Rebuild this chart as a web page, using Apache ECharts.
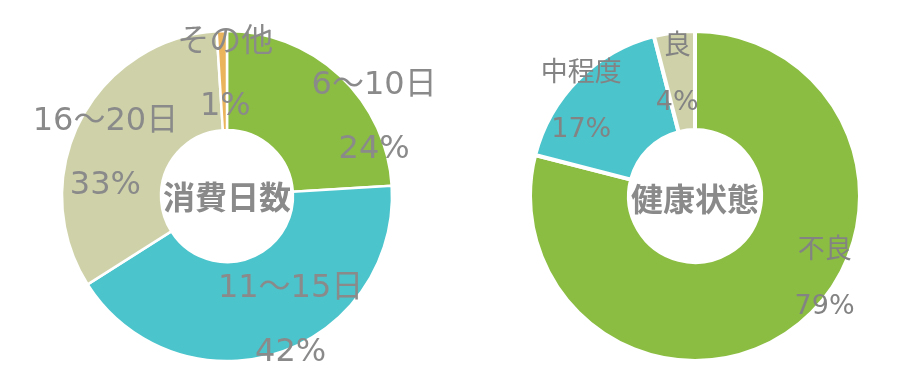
<!DOCTYPE html>
<html>
<head>
<meta charset="utf-8">
<script src="https://cdn.jsdelivr.net/npm/echarts@6/dist/echarts.min.js"></script>
<style>
html,body{margin:0;padding:0;background:#fff;}
#main{width:917px;height:386px;}
</style>
</head>
<body>
<div id="main"></div>
<script>
// ---- data ----
const daysCategories = ['6～10日', '11～15日', '16～20日', 'その他'];
const daysValues = [24, 42, 33, 1];
const healthCategories = ['不良', '中程度', '良'];
const healthValues = [79, 17, 4];
const centerTitles = ['消費日数', '健康状態'];

// ---- styles ----
const FONT = '"DejaVu Sans", "Noto Sans CJK JP", sans-serif';
const CJK = '"Noto Sans CJK JP", "Noto Sans", sans-serif';
const TEXT = '#8a8a8a';
const TEXT2 = '#838383';
const daysColors = ['#8bbd42', '#4bc4cc', '#cfd2a9', '#e9b45c'];
const healthColors = ['#8bbd42', '#4bc4cc', '#cfd2a9'];
const daysOffsets = [[66, 8], [27, 12], [-16, 11], [2, -3]];
const healthOffsets = [[57, -11], [-30, -10], [-3, -3]];

function build(cats, vals, colors, offsets) {
  return cats.map((c, i) => ({
    name: c,
    value: vals[i],
    itemStyle: { color: colors[i] },
    label: { offset: offsets[i] }
  }));
}

const chart = echarts.init(document.getElementById('main'), null, { renderer: 'canvas' });
chart.setOption({
  animation: false,
  series: [
    {
      type: 'pie',
      center: [227, 196],
      radius: [66, 165],
      startAngle: 90,
      clockwise: true,
      avoidLabelOverlap: false,
      minShowLabelAngle: 0,
      labelLayout: { hideOverlap: false },
      itemStyle: { borderColor: '#fff', borderWidth: 2.5 },
      label: {
        show: true,
        position: 'inside',
        formatter: p => p.name + '\n' + p.value + '%',
        color: TEXT,
        fontFamily: FONT,
        fontSize: 32,
        lineHeight: 64,
        textBorderWidth: 0
      },
      labelLine: { show: false },
      emphasis: { disabled: true },
      data: build(daysCategories, daysValues, daysColors, daysOffsets)
    },
    {
      type: 'pie',
      center: [695, 196],
      radius: [66, 165],
      startAngle: 90,
      clockwise: true,
      avoidLabelOverlap: false,
      minShowLabelAngle: 0,
      labelLayout: { hideOverlap: false },
      itemStyle: { borderColor: '#fff', borderWidth: 4 },
      label: {
        show: true,
        position: 'inside',
        formatter: p => p.name + '\n' + p.value + '%',
        color: TEXT2,
        fontFamily: FONT,
        fontSize: 27,
        lineHeight: 56,
        textBorderWidth: 0
      },
      labelLine: { show: false },
      emphasis: { disabled: true },
      data: build(healthCategories, healthValues, healthColors, healthOffsets)
    }
  ],
  graphic: [
    {
      type: 'text', x: 227, y: 197,
      style: { text: centerTitles[0], fill: TEXT, font: 'bold 32px ' + CJK, textAlign: 'center', textVerticalAlign: 'middle' }
    },
    {
      type: 'text', x: 695, y: 199,
      style: { text: centerTitles[1], fill: TEXT, font: 'bold 32px ' + CJK, textAlign: 'center', textVerticalAlign: 'middle' }
    }
  ]
});
</script>
</body>
</html>
